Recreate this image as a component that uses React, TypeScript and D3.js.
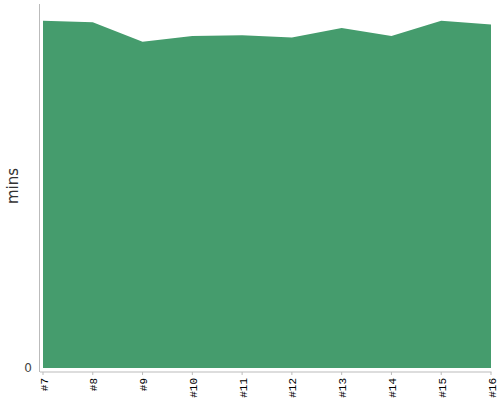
import { useEffect, useRef } from "react";
import * as d3 from "d3";

const categories = ["#7", "#8", "#9", "#10", "#11", "#12", "#13", "#14", "#15", "#16"];
const mins = [47.7, 47.5, 44.8, 45.6, 45.7, 45.4, 46.7, 45.6, 47.7, 47.2];
const yTicks = [0];

export default function App() {
  const svgRef = useRef<SVGSVGElement>(null);

  useEffect(() => {
    if (!svgRef.current) return;
    const svg = d3.select(svgRef.current);
    svg.selectAll("*").remove();

    const width = 500;
    const height = 400;
    const left = 43;
    const right = 491;
    const bottom = 368;
    const top = 4;

    const x = d3.scalePoint<string>().domain(categories).range([left, right]);
    const y = d3.scaleLinear().domain([0, 50]).range([bottom, top]);

    // Area
    const area = d3
      .area<number>()
      .x((_, i) => x(categories[i])!)
      .y0(y(0))
      .y1((d) => y(d));

    svg
      .append("path")
      .datum(mins)
      .attr("d", area)
      .attr("fill", "#459c6d");

    // Y axis line
    svg
      .append("line")
      .attr("x1", 39.5)
      .attr("x2", 39.5)
      .attr("y1", top)
      .attr("y2", bottom + 4)
      .attr("stroke", "#bbb");

    yTicks.forEach((t) => {
      svg
        .append("text")
        .attr("x", 32)
        .attr("y", y(t) + 3.5)
        .attr("text-anchor", "end")
        .attr("font-family", "DejaVu Sans, sans-serif")
        .attr("font-size", "12px")
        .attr("fill", "#444")
        .text(String(t));
    });

    // X axis line
    svg
      .append("line")
      .attr("x1", 40)
      .attr("x2", right + 0.5)
      .attr("y1", bottom + 4)
      .attr("y2", bottom + 4)
      .attr("stroke", "#bbb");

    categories.forEach((c) => {
      const cx = x(c)!;
      svg
        .append("line")
        .attr("x1", cx)
        .attr("x2", cx)
        .attr("y1", bottom + 4)
        .attr("y2", bottom + 7)
        .attr("stroke", "#bbb");
      svg
        .append("text")
        .attr("transform", `translate(${cx + 4.5},${bottom + 10}) rotate(-90)`)
        .attr("text-anchor", "end")
        .attr("font-family", "Liberation Mono, monospace")
        .attr("font-size", "11px")
        .attr("fill", "#000")
        .text(c);
    });

    // Y label
    svg
      .append("text")
      .attr("transform", `translate(18,186) rotate(-90)`)
      .attr("text-anchor", "middle")
      .attr("font-family", "DejaVu Sans, sans-serif")
      .attr("font-size", "15px")
      .attr("fill", "#333")
      .text("mins");

    svg.attr("width", width).attr("height", height);
  }, []);

  return (
    <svg
      ref={svgRef}
      width={500}
      height={400}
      style={{ position: "absolute", left: 0, top: 0 }}
    ></svg>
  );
}
